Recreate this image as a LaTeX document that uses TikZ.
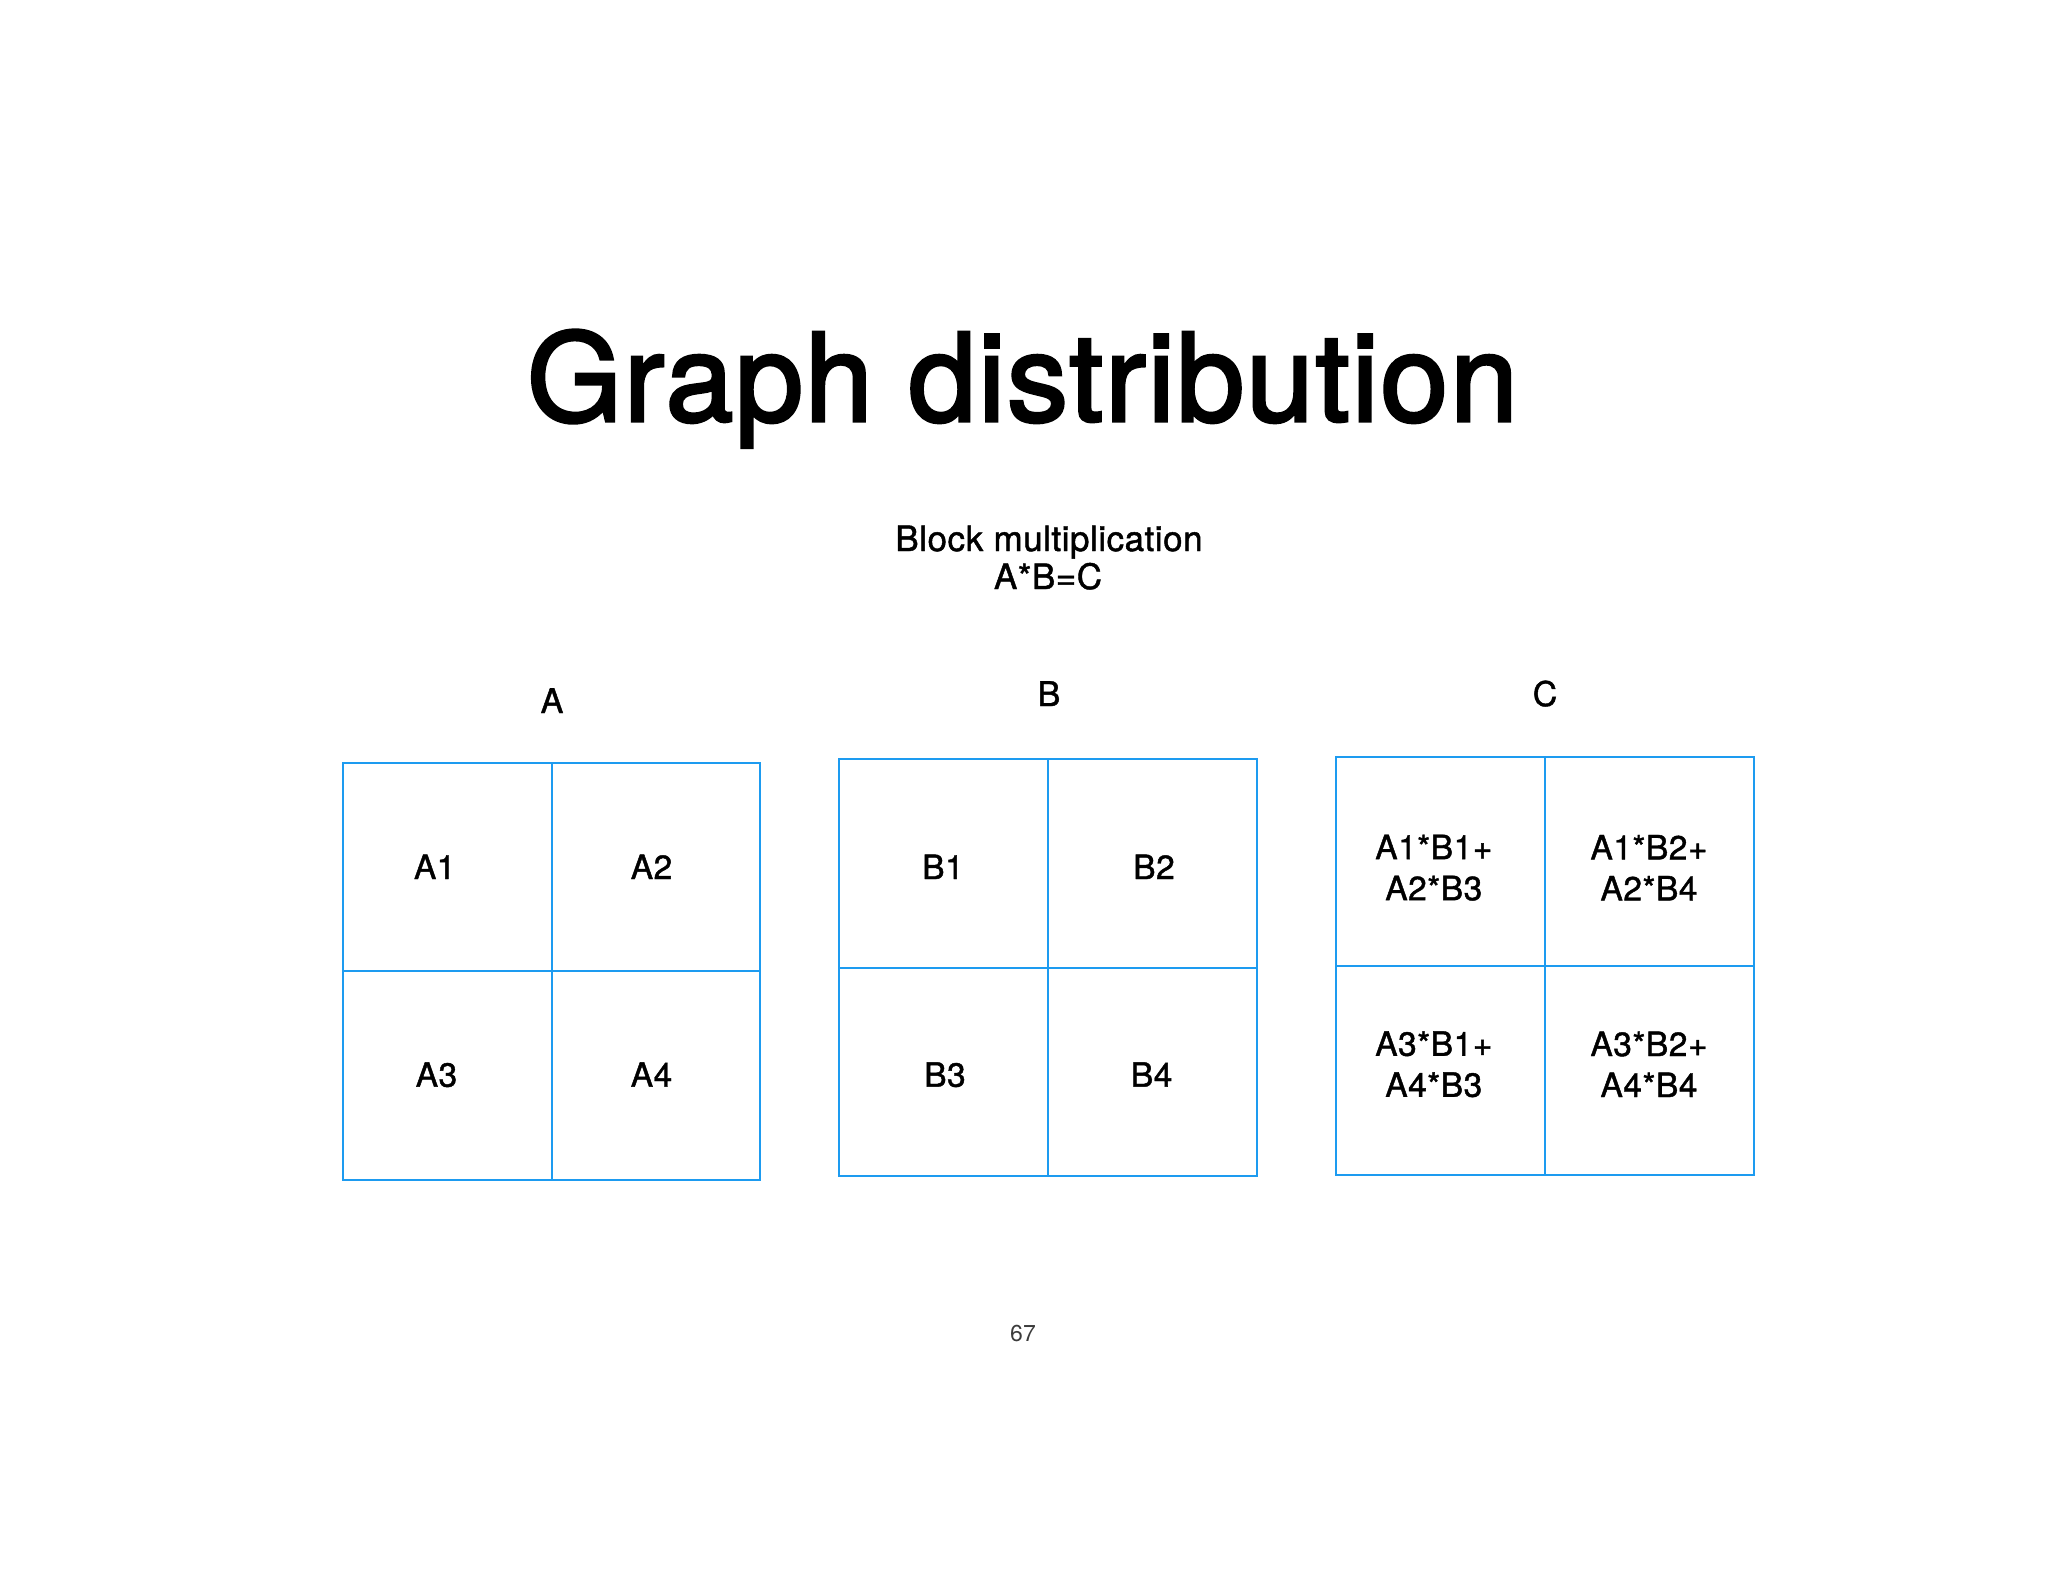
\documentclass[tikz,border=0pt]{standalone}
\usepackage{fontspec}
\setmainfont{TeX Gyre Heros}[FakeBold=1.3,LetterSpace=1.5]
\newfontfamily\titlefont{TeX Gyre Heros}[FakeBold=2.5,LetterSpace=1.5]
\newfontfamily\plainfont{TeX Gyre Heros}
\definecolor{gridblue}{RGB}{29,155,240}
\definecolor{pagegray}{RGB}{60,60,60}
\begin{document}
\begin{tikzpicture}[x=1pt,y=-1pt,
  cell/.style={draw=gridblue,line width=2pt,minimum width=208.8pt,minimum height=208.8pt,inner sep=0pt},
  txt/.style={inner sep=0pt,align=center,font=\fontsize{33.5}{41}\selectfont},
  lbl/.style={anchor=base,inner sep=0pt,font=\fontsize{34}{41}\selectfont}]
\useasboundingbox (0,0) rectangle (2048,1582);
\fill[white] (0,0) rectangle (2048,1582);
% title
\node[anchor=base,inner sep=0pt,font=\titlefont\fontsize{122}{130}\selectfont] (title) at (1022.5,421) {Graph distribution};
\node[lbl,font=\fontsize{35}{41}\selectfont] (sub1) at (1049,551) {Block multiplication};
\node[lbl,font=\fontsize{35}{41}\selectfont] (sub2) at (1048,589) {A*B=C};
% matrix labels
\node[lbl] (labA) at (552,713) {A};
\node[lbl] (labB) at (1049,706) {B};
\node[lbl] (labC) at (1545,706) {C};
% grid A
\node[cell] (A1) at (447.1,866.9) {};
\node[cell] (A2) at (655.9,866.9) {};
\node[cell] (A3) at (447.1,1075.7) {};
\node[cell] (A4) at (655.9,1075.7) {};
\node[txt,anchor=base] (tA1) at (434.7,879) {A1};
\node[txt,anchor=base] (tA2) at (651.5,879) {A2};
\node[txt,anchor=base] (tA3) at (436.5,1086.7) {A3};
\node[txt,anchor=base] (tA4) at (651.5,1086.7) {A4};
% grid B
\node[cell] (B1) at (943.6,863.1) {};
\node[cell] (B2) at (1152.4,863.1) {};
\node[cell] (B3) at (943.6,1071.9) {};
\node[cell] (B4) at (1152.4,1071.9) {};
\node[txt,anchor=base] (tB1) at (943,879) {B1};
\node[txt,anchor=base] (tB2) at (1154,879) {B2};
\node[txt,anchor=base] (tB3) at (945,1086.7) {B3};
\node[txt,anchor=base] (tB4) at (1151.7,1086.7) {B4};
% grid C
\node[cell] (C1) at (1440.3,861.8) {};
\node[cell] (C2) at (1649.1,861.8) {};
\node[cell] (C3) at (1440.3,1070.6) {};
\node[cell] (C4) at (1649.1,1070.6) {};
\node[txt] (tC1) at (1433.8,867.7) {A1*B1+\\A2*B3};
\node[txt] (tC2) at (1649,867.7) {A1*B2+\\A2*B4};
\node[txt] (tC3) at (1433.8,1064.3) {A3*B1+\\A4*B3};
\node[txt] (tC4) at (1649,1064.3) {A3*B2+\\A4*B4};
% page number
\node[anchor=base,inner sep=0pt,text=pagegray,font=\plainfont\fontsize{23}{27}\selectfont] (page) at (1023,1341.7) {67};
\end{tikzpicture}
\end{document}
